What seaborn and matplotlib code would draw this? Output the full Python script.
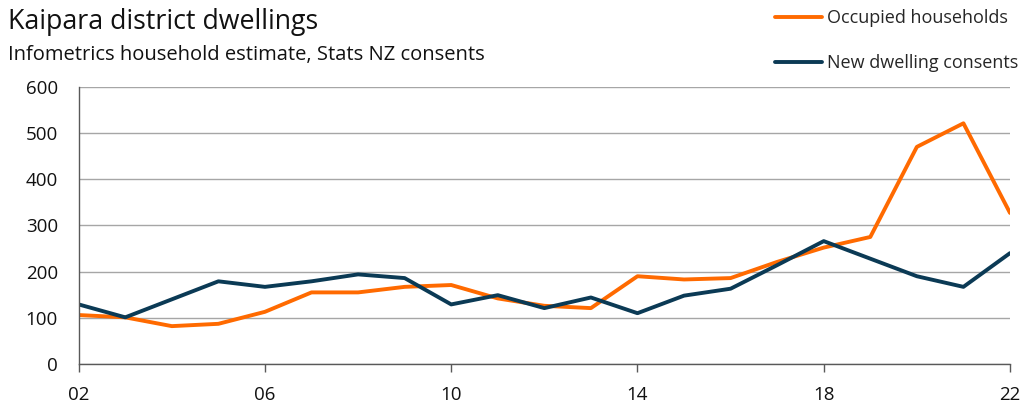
import matplotlib
matplotlib.use("Agg")
import matplotlib.pyplot as plt
import seaborn as sns
import pandas as pd

years = list(range(2002, 2023))
occupied = [106, 101, 82, 87, 113, 155, 155, 167, 171, 142, 126, 121, 190, 183, 186, 221, 252, 275, 470, 521, 327]
consents = [129, 101, 140, 179, 167, 179, 194, 186, 129, 149, 121, 144, 110, 148, 163, 214, 266, 228, 190, 167, 240]
series_names = ["Occupied households", "New dwelling consents"]
colors = ["#FF6A00", "#0B3A55"]
xticks = [2002, 2006, 2010, 2014, 2018, 2022]
xtick_labels = ["02", "06", "10", "14", "18", "22"]
yticks = [0, 100, 200, 300, 400, 500, 600]

df = pd.DataFrame({
    "year": years * 2,
    "value": occupied + consents,
    "series": [series_names[0]] * len(years) + [series_names[1]] * len(years),
})

sns.set_theme(style="white")
plt.rcParams["font.family"] = ["Open Sans", "DejaVu Sans"]

fig = plt.figure(figsize=(10.26, 4.2), dpi=100)
ax = fig.add_axes([0.0767, 0.1333, 0.9077, 0.66])

sns.lineplot(data=df, x="year", y="value", hue="series", hue_order=series_names,
             palette=colors, linewidth=2.8, ax=ax, legend=False)

ax.set_xlim(2002, 2022)
ax.set_ylim(0, 600)
ax.set_xticks(xticks)
ax.set_xticklabels(xtick_labels)
ax.set_yticks(yticks)
ax.set_xlabel("")
ax.set_ylabel("")
ax.yaxis.grid(True, color="#A6A6A6", linewidth=1)
ax.set_axisbelow(True)
for s in ["top", "right"]:
    ax.spines[s].set_visible(False)
for s in ["left", "bottom"]:
    ax.spines[s].set_color("#595959")
    ax.spines[s].set_linewidth(1)
ax.tick_params(axis="x", which="major", direction="out", length=6, width=1, color="#595959",
               labelsize=13.5, labelcolor="#111111", pad=10, bottom=True)
ax.tick_params(axis="y", length=0, labelsize=13.5, labelcolor="#111111", pad=15)

fig.text(0.008, 0.948, "Kaipara district dwellings", fontsize=19.3, color="#111111", va="center")
fig.text(0.008, 0.868, "Infometrics household estimate, Stats NZ consents", fontsize=14.5, color="#111111", va="center")

from matplotlib.lines import Line2D
handles = [Line2D([], [], color=c, linewidth=2.8) for c in colors]
fig.legend(handles, series_names, loc="upper right", bbox_to_anchor=(1.005, 1.008),
           frameon=False, fontsize=13, labelspacing=1.5, handlelength=2.6,
           handletextpad=0.3, borderaxespad=0.3)

fig.savefig("out.png", dpi=100)
